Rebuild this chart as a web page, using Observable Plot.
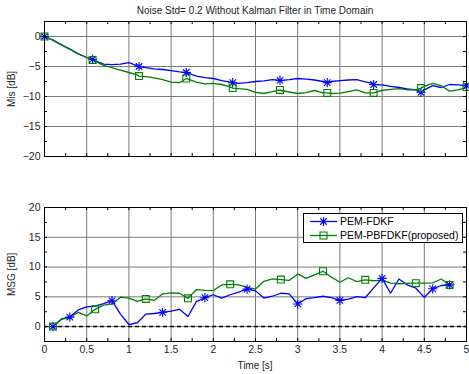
<!DOCTYPE html>
<html><head><meta charset="utf-8">
<script src="https://cdn.jsdelivr.net/npm/d3@7"></script>
<script src="https://cdn.jsdelivr.net/npm/@observablehq/plot@0.6"></script>
<style>
body{margin:0;background:#fff;font-family:"Liberation Sans",Arial,sans-serif;}
#wrap{position:relative;width:469px;height:374px;overflow:hidden;}
.abs{position:absolute;}
svg{overflow:visible;}
</style></head>
<body><div id="wrap"></div>
<script>
// ---- data ----
const title = "Noise Std= 0.2 Without Kalman Filter in Time Domain";
const seriesNames = ["PEM-FDKF", "PEM-PBFDKF(proposed)"];
const colors = ["#0000ff", "#008000"];

// Top panel: Mis [dB]
const misTime = [0,0.1,0.2,0.3,0.4,0.5,0.6,0.7,0.8,0.9,1.0,1.1,1.2,1.3,1.4,1.5,1.6,1.7,1.8,1.9,2.0,2.1,2.2,2.3,2.4,2.5,2.6,2.7,2.8,2.9,3.0,3.1,3.2,3.3,3.4,3.5,3.6,3.7,3.8,3.9,4.0,4.1,4.2,4.3,4.4,4.5,4.6,4.7,4.8,4.9,5.0];
const misFDKF = [0,-0.6,-1.4,-2.1,-2.9,-3.5,-4.0,-4.6,-4.7,-4.6,-4.35,-4.9,-5.2,-5.4,-5.5,-5.7,-5.9,-6.1,-6.6,-6.85,-7.0,-7.35,-7.6,-7.8,-7.7,-7.5,-7.4,-7.2,-7.35,-7.2,-7.0,-7.1,-7.25,-7.5,-7.5,-7.35,-7.25,-7.2,-7.55,-7.85,-8.05,-8.3,-8.5,-8.75,-8.9,-8.9,-8.2,-8.5,-8.0,-8.05,-8.2];
const misPBFDKF = [0,-0.6,-1.4,-2.1,-2.9,-3.5,-4.1,-4.8,-5.2,-5.6,-6.0,-6.4,-6.7,-6.9,-7.2,-7.6,-7.7,-7.1,-7.6,-7.9,-7.8,-8.0,-8.4,-8.7,-8.8,-9.3,-9.5,-9.2,-9.0,-9.25,-9.5,-9.35,-9.0,-9.4,-9.5,-9.45,-9.2,-8.9,-9.4,-9.4,-9.0,-8.8,-8.7,-8.9,-8.9,-8.3,-7.8,-8.2,-9.1,-8.9,-8.5];
const misMarkTime = [0,0.57,1.12,1.68,2.23,2.79,3.35,3.9,4.46,5.0];
const misMarkFDKF = [0,-3.8,-5.0,-6.0,-7.7,-7.3,-7.7,-8.0,-9.3,-8.2];
const misMarkPBFDKF = [0,-3.9,-6.6,-7.0,-8.6,-8.9,-9.4,-9.4,-8.6,-8.4];

// Bottom panel: MSG [dB]
const msgTime = [0.1,0.2,0.3,0.4,0.5,0.6,0.7,0.8,0.9,1.0,1.1,1.2,1.3,1.4,1.5,1.6,1.7,1.8,1.9,2.0,2.1,2.2,2.3,2.4,2.5,2.6,2.7,2.8,2.9,3.0,3.1,3.2,3.3,3.4,3.5,3.6,3.7,3.8,3.9,4.0,4.1,4.2,4.3,4.4,4.5,4.6,4.7,4.8];
const msgFDKF = [0,1.3,1.6,2.8,3.3,3.45,3.85,4.35,2.1,0.35,0.65,2.1,2.2,2.4,2.6,2.9,1.7,4.2,4.85,5.35,4.8,5.35,5.8,6.3,6.0,4.8,5.1,5.6,5.5,3.8,4.7,4.85,5.1,4.85,4.4,4.6,5.05,4.85,6.5,8.1,5.6,8.0,7.0,6.45,4.9,6.35,6.9,7.0];
const msgPBFDKF = [0,1.2,1.5,2.4,1.8,2.9,3.6,3.8,4.95,4.8,4.25,4.65,4.4,5.5,5.65,5.6,4.75,6.2,6.1,6.05,7.0,7.1,7.0,6.6,6.3,7.6,8.0,7.9,7.75,8.85,8.1,8.7,9.3,8.3,7.45,8.2,7.55,7.85,7.7,7.8,7.3,7.2,7.25,7.3,7.3,7.35,8.0,7.0];
const msgMarkTimeFDKF = [0.1,0.3,0.8,1.4,1.9,2.4,3.0,3.5,4.0,4.6,4.8];
const msgMarkTimePBFDKF = [0.1,0.6,1.2,1.7,2.2,2.8,3.3,3.8,4.4,4.8];

// ticks
const xTickLabels = [0,0.5,1,1.5,2,2.5,3,3.5,4,4.5,5];
const xMinor = d3.range(0, 5.001, 0.25);
const misTicks = [0,-5,-10,-15,-20];
const misMinor = d3.range(-20, 2.51, 2.5);
const msgTicks = [0,5,10,15,20];
const msgMinor = d3.range(-2.5, 20.01, 2.5);

// ---- helpers ----
const asterisk = {
  draw(ctx, size) {
    const r = Math.sqrt(size / Math.PI);
    for (let k = 0; k < 4; k++) {
      const a = k * Math.PI / 4;
      const dx = r * Math.cos(a), dy = r * Math.sin(a);
      ctx.moveTo(-dx, -dy); ctx.lineTo(dx, dy);
    }
  }
};
const FONT = '"Liberation Sans", Arial, sans-serif';
const W = 469, ML = 44, MR = 3;
const FW = W - ML - MR;

function merge(t, v, mt, mv) {
  const pts = t.map((x, i) => ({t: x, v: v[i]}));
  mt.forEach((x, i) => pts.push({t: x, v: mv[i]}));
  return pts.sort((a, b) => a.t - b.t);
}
function lookup(t, v, mt) {
  return mt.map(x => ({t: x, v: v[t.findIndex(d => Math.abs(d - x) < 1e-6)]}));
}

function panel({height, mt, mb, ydom, yTicks, yMinor, showX, lines, marks, extra}) {
  const FH = height - mt - mb;
  return Plot.plot({
    width: W, height, marginLeft: ML, marginRight: MR, marginTop: mt, marginBottom: mb,
    style: {fontFamily: FONT, fontSize: "10.5px", color: "#262626", background: "transparent"},
    x: {domain: [0, 5], ...(showX ? {} : {axis: null})},
    y: {domain: ydom},
    marks: [
      Plot.ruleX(xTickLabels, {stroke: "#7a7a7a", strokeWidth: 1}),
      Plot.ruleY(yTicks, {stroke: "#7a7a7a", strokeWidth: 1}),
      ...(extra || []),
      ...lines.map(l => Plot.line(l.data, {x: "t", y: "v", stroke: l.color, strokeWidth: 1.3})),
      ...marks.map(m => Plot.dot(m.data, {x: "t", y: "v", symbol: m.symbol, r: m.r, stroke: m.color, fill: "none", strokeWidth: 1.1})),
      Plot.ruleX(xMinor, {insetTop: FH - 3, stroke: "black"}),
      Plot.ruleX(xMinor, {insetBottom: FH - 3, stroke: "black"}),
      Plot.ruleY(yMinor, {insetRight: FW - 3, stroke: "black"}),
      Plot.ruleY(yMinor, {insetLeft: FW - 3, stroke: "black"}),
      Plot.frame({stroke: "black", strokeWidth: 1}),
      Plot.axisY({ticks: yTicks, tickSize: 0, tickPadding: 4, label: null}),
      ...(showX ? [Plot.axisX({ticks: xTickLabels, tickSize: 0, tickPadding: 4, label: null, tickFormat: d => String(d)})] : [])
    ]
  });
}

const wrap = document.getElementById("wrap");
function place(el, left, topPos) { el.classList.add("abs"); el.style.left = left + "px"; el.style.top = topPos + "px"; wrap.appendChild(el); return el; }
function text(str, left, topPos, css) {
  const d = document.createElement("div");
  d.textContent = str;
  d.style.cssText = `font-family:${FONT};color:#262626;white-space:nowrap;` + (css || "");
  return place(d, left, topPos);
}

// top panel
const topPanel = panel({
  height: 175, mt: 21, mb: 19, ydom: [-20, 2.5], yTicks: misTicks, yMinor: misMinor, showX: false,
  lines: [
    {data: merge(misTime, misFDKF, misMarkTime, misMarkFDKF), color: colors[0]},
    {data: merge(misTime, misPBFDKF, misMarkTime, misMarkPBFDKF), color: colors[1]}
  ],
  marks: [
    {data: misMarkTime.map((t, i) => ({t, v: misMarkFDKF[i]})), symbol: asterisk, r: 4.6, color: colors[0]},
    {data: misMarkTime.map((t, i) => ({t, v: misMarkPBFDKF[i]})), symbol: "square", r: 3.9, color: colors[1]}
  ]
});
place(topPanel, 0, 0);

// bottom panel
const bottomPanel = panel({
  height: 184, mt: 17, mb: 33, ydom: [-2.5, 20], yTicks: msgTicks, yMinor: msgMinor, showX: true,
  extra: [Plot.ruleY([0], {stroke: "black", strokeWidth: 1.5, strokeDasharray: "4,3"})],
  lines: [
    {data: msgTime.map((t, i) => ({t, v: msgFDKF[i]})), color: colors[0]},
    {data: msgTime.map((t, i) => ({t, v: msgPBFDKF[i]})), color: colors[1]}
  ],
  marks: [
    {data: lookup(msgTime, msgFDKF, msgMarkTimeFDKF), symbol: asterisk, r: 4.6, color: colors[0]},
    {data: lookup(msgTime, msgPBFDKF, msgMarkTimePBFDKF), symbol: "square", r: 3.9, color: colors[1]}
  ]
});
place(bottomPanel, 0, 190);

// texts
const titleEl = text(title, 0, 5, "font-size:10px;");
titleEl.style.left = (255 - titleEl.getBoundingClientRect().width / 2) + "px";
const xl = text("Time [s]", 0, 360, "font-size:10px;");
xl.style.left = (255 - xl.getBoundingClientRect().width / 2) + "px";
function ylabel(str, cy) {
  const d = text(str, 0, 0, "font-size:10px;transform-origin:0 0;transform:rotate(-90deg);");
  const r = d.getBoundingClientRect();
  d.style.left = "6px";
  d.style.top = (cy + r.height / 2) + "px";
}
ylabel("Mis [dB]", 88.5);
ylabel("MSG [dB]", 274);

// legend
const leg = document.createElement("div");
leg.style.cssText = "width:158px;height:28px;border:1px solid #000;background:#fff;box-sizing:content-box;";
const ns = "http://www.w3.org/2000/svg";
const lsvg = document.createElementNS(ns, "svg");
lsvg.setAttribute("width", 158); lsvg.setAttribute("height", 28);
lsvg.style.position = "absolute"; lsvg.style.left = "0"; lsvg.style.top = "0";
const sqSide = 7;
seriesNames.forEach((name, i) => {
  const y = 7.5 + i * 14;
  const ln = document.createElementNS(ns, "line");
  ln.setAttribute("x1", 6); ln.setAttribute("x2", 33); ln.setAttribute("y1", y); ln.setAttribute("y2", y);
  ln.setAttribute("stroke", colors[i]); ln.setAttribute("stroke-width", 1.3);
  lsvg.appendChild(ln);
  const p = document.createElementNS(ns, "path");
  if (i === 0) {
    const path = d3.path(); asterisk.draw(path, Math.PI * 4.6 * 4.6);
    p.setAttribute("d", path.toString()); p.setAttribute("fill", "none");
  } else {
    p.setAttribute("d", `M${-sqSide/2},${-sqSide/2}h${sqSide}v${sqSide}h${-sqSide}Z`); p.setAttribute("fill", "none");
  }
  p.setAttribute("transform", `translate(19.5,${y})`);
  p.setAttribute("stroke", colors[i]); p.setAttribute("stroke-width", 1.1);
  lsvg.appendChild(p);
  const tx = document.createElementNS(ns, "text");
  tx.setAttribute("x", 36); tx.setAttribute("y", y); tx.setAttribute("dy", "0.35em");
  tx.setAttribute("font-family", FONT); tx.setAttribute("font-size", "10.5px"); tx.setAttribute("fill", "#000");
  tx.textContent = name;
  lsvg.appendChild(tx);
});
leg.appendChild(lsvg);
place(leg, 303, 213);
</script>
</body></html>
